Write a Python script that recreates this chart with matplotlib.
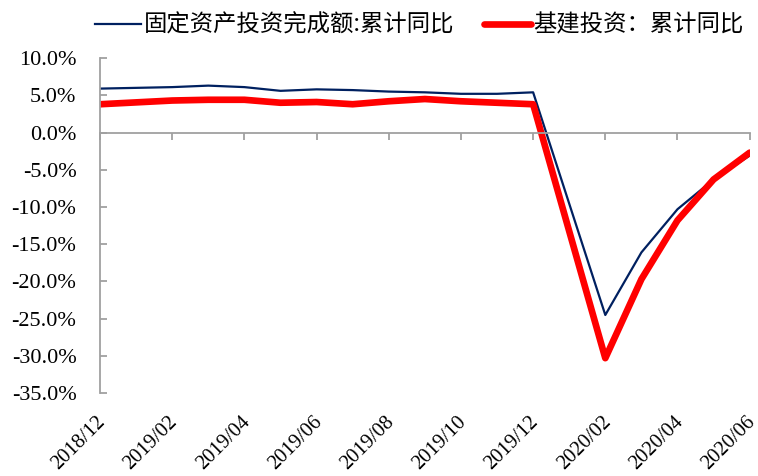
import numpy as np
import matplotlib
matplotlib.use("Agg")
import matplotlib.pyplot as plt
import matplotlib.transforms as mtransforms
from matplotlib.ticker import FuncFormatter

plt.rcParams['font.family'] = ['Liberation Serif', 'Noto Sans CJK SC']

# month index from 2018/12 (January has no data)
months = [0, 2, 3, 4, 5, 6, 7, 8, 9, 10, 11, 12, 14, 15, 16, 17, 18]
fai = [5.9, 6.1, 6.3, 6.1, 5.6, 5.8, 5.7, 5.5, 5.4, 5.2, 5.2, 5.4,
       -24.5, -16.1, -10.3, -6.3, -3.1]
infra = [3.8, 4.3, 4.4, 4.4, 4.0, 4.1, 3.8, 4.2, 4.5, 4.2, 4.0, 3.8,
         -30.3, -19.7, -11.8, -6.3, -2.7]
tick_pos = [0, 2, 4, 6, 8, 10, 12, 14, 16, 18]
tick_labels = ['2018/12', '2019/02', '2019/04', '2019/06', '2019/08',
               '2019/10', '2019/12', '2020/02', '2020/04', '2020/06']
name_fai = '固定资产投资完成额:累计同比'
name_infra = '基建投资：累计同比'

fig = plt.figure(figsize=(7.58, 4.76), dpi=100)
ax = fig.add_axes([0.132, 0.174, 0.857, 0.704])

ax.plot(months, fai, color='#002060', lw=1.6, label=name_fai)
ax.plot(months, infra, color='#FF0000', lw=4.8, label=name_infra,
        solid_capstyle='round', solid_joinstyle='round')

ax.set_xlim(0, 18)
ax.set_ylim(-35, 10)
ax.set_yticks(np.arange(-35, 10.1, 5))
ax.yaxis.set_major_formatter(FuncFormatter(lambda v, p: f'{v:.1f}%'))

gray = '#A0A0A0'
for s in ['top', 'right']:
    ax.spines[s].set_visible(False)
ax.spines['left'].set_color(gray)
ax.spines['bottom'].set_color(gray)
ax.spines['bottom'].set_position(('data', 0))
ax.spines['left'].set_linewidth(1.3)
ax.spines['bottom'].set_linewidth(1.3)
ax.tick_params(axis='y', colors=gray, labelcolor='black', labelsize=16,
               length=5, width=1.3, direction='in', pad=17)
ax.set_xticks(tick_pos)
ax.tick_params(axis='x', colors=gray, length=5, width=1.3,
               direction='out', labelbottom=False)

# rotated date labels under the plot area
trans = mtransforms.blended_transform_factory(ax.transData, ax.transAxes)
trans = mtransforms.offset_copy(trans, fig, x=-4, y=-19, units='dots')
for x, lab in zip(tick_pos, tick_labels):
    ax.text(x, 0, lab, transform=trans, rotation=45, ha='right', va='top',
            fontsize=14.8, rotation_mode='anchor', clip_on=False)

fig.legend(loc='upper center', bbox_to_anchor=(0.553, 1.015), ncol=2,
           frameon=False, handlelength=2.0, handletextpad=0.1,
           columnspacing=1.3, prop={'family': ['Noto Sans CJK SC'], 'size': 16.8})

fig.savefig('out.png', dpi=100)
